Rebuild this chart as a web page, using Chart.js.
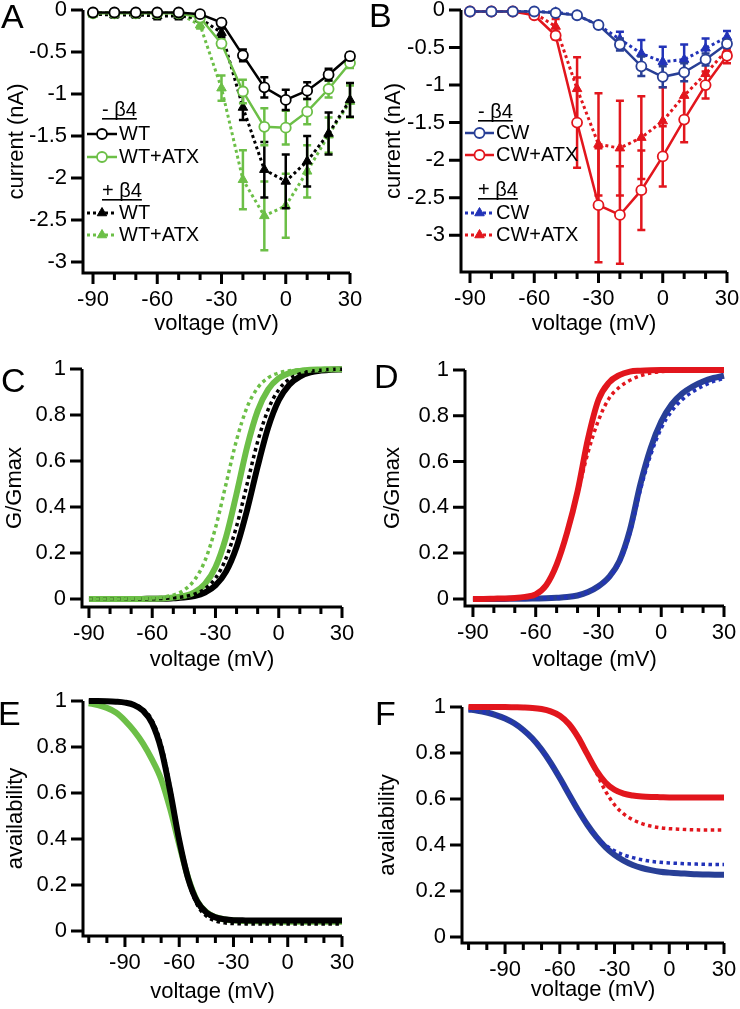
<!DOCTYPE html>
<html>
<head>
<meta charset="utf-8">
<title>Currents, activation and availability</title>
<script src="https://cdn.jsdelivr.net/npm/chart.js@4.4.1/dist/chart.umd.min.js"></script>
<style>
  html, body { margin: 0; padding: 0; background: #fff; }
  body { position: relative; width: 740px; height: 1009px; overflow: hidden;
         font-family: "Liberation Sans", Arial, Helvetica, sans-serif; }
  canvas { position: absolute; }
  .letter { position: absolute; font-size: 34px; line-height: 34px; color: #000; }
</style>
</head>
<body>
<canvas id="chart-A" width="370" height="338" style="left:0;top:0"></canvas>
<canvas id="chart-B" width="370" height="338" style="left:370px;top:0"></canvas>
<canvas id="chart-C" width="370" height="344" style="left:0;top:330px"></canvas>
<canvas id="chart-D" width="370" height="344" style="left:370px;top:330px"></canvas>
<canvas id="chart-E" width="370" height="346" style="left:0;top:660px"></canvas>
<canvas id="chart-F" width="370" height="344" style="left:370px;top:660px"></canvas>
<div class="letter" style="left:1px;top:-1px">A</div>
<div class="letter" style="left:369px;top:-2px">B</div>
<div class="letter" style="left:1px;top:363px">C</div>
<div class="letter" style="left:374px;top:359px">D</div>
<div class="letter" style="left:-2px;top:696px">E</div>
<div class="letter" style="left:375px;top:696px">F</div>
<script>
// voltages (mV)
const ivVolts = [-90, -80, -70, -60, -50, -40, -30, -20, -10, 0, 10, 20, 30];
const gvVolts = [-90, -85, -80, -75, -70, -65, -60, -55, -50, -45, -40, -35, -30,
                 -25, -20, -15, -10, -5, 0, 5, 10, 15, 20, 25, 30];
const availVolts = [-110, -105, -100, -95, -90, -85, -80, -75, -70, -65, -60, -55, -50, -45, -40,
                    -35, -30, -25, -20, -15, -10, -5, 0, 5, 10, 15, 20, 25, 30];

// A: peak current (nA), mean and error
const wtNoB4 = [-0.03, -0.03, -0.03, -0.03, -0.03, -0.05, -0.15, -0.54, -0.92, -1.07, -0.96, -0.77, -0.55];
const wtNoB4Err = [0.01, 0.01, 0.01, 0.01, 0.01, 0.02, 0.03, 0.07, 0.12, 0.12, 0.1, 0.07, 0.04];
const wtAtxNoB4 = [-0.04, -0.04, -0.04, -0.04, -0.04, -0.09, -0.40, -0.97, -1.39, -1.40, -1.21, -0.94, -0.63];
const wtAtxNoB4Err = [0.01, 0.01, 0.01, 0.01, 0.01, 0.02, 0.05, 0.14, 0.22, 0.2, 0.15, 0.1, 0.06];
const wtB4 = [-0.05, -0.06, -0.06, -0.07, -0.07, -0.1, -0.27, -1.16, -1.9, -2.04, -1.8, -1.47, -1.07];
const wtB4Err = [0.02, 0.03, 0.03, 0.04, 0.04, 0.03, 0.05, 0.15, 0.33, 0.32, 0.3, 0.25, 0.2];
const wtAtxB4 = [-0.03, -0.03, -0.03, -0.03, -0.04, -0.18, -0.93, -2.02, -2.45, -2.33, -1.92, -1.49, -1.09];
const wtAtxB4Err = [0.01, 0.01, 0.01, 0.01, 0.02, 0.04, 0.15, 0.35, 0.41, 0.38, 0.31, 0.21, 0.19];

// B
const cwNoB4 = [-0.02, -0.02, -0.02, -0.02, -0.04, -0.07, -0.20, -0.46, -0.75, -0.89, -0.83, -0.66, -0.45];
const cwNoB4Err = [0.01, 0.01, 0.01, 0.01, 0.01, 0.02, 0.03, 0.08, 0.13, 0.14, 0.12, 0.08, 0.05];
const cwAtxNoB4 = [-0.02, -0.02, -0.02, -0.07, -0.34, -1.50, -2.60, -2.73, -2.40, -1.95, -1.46, -1.00, -0.61];
const cwAtxNoB4Err = [0.01, 0.01, 0.01, 0.02, 0.05, 0.6, 0.76, 0.65, 0.53, 0.4, 0.3, 0.18, 0.1];
const cwB4 = [-0.02, -0.02, -0.02, -0.02, -0.03, -0.07, -0.2, -0.39, -0.58, -0.69, -0.66, -0.51, -0.36];
const cwB4Err = [0.01, 0.01, 0.01, 0.01, 0.01, 0.02, 0.03, 0.1, 0.18, 0.2, 0.2, 0.13, 0.08];
const cwAtxB4 = [-0.02, -0.02, -0.02, -0.04, -0.22, -1.05, -1.79, -1.84, -1.70, -1.48, -1.14, -0.85, -0.53];
const cwAtxB4Err = [0.01, 0.01, 0.01, 0.02, 0.1, 0.42, 0.68, 0.63, 0.55, 0.45, 0.28, 0.15, 0.1];

// C: G/Gmax fits
const gvWt = [0, 0, 0, 0, 0, 0, 0.001, 0.001, 0.003, 0.006, 0.013, 0.028, 0.059, 0.119, 0.226,
              0.387, 0.576, 0.746, 0.864, 0.932, 0.967, 0.985, 0.993, 0.997, 0.998];
const gvWtB4 = [0, 0, 0, 0, 0, 0, 0.001, 0.002, 0.005, 0.010, 0.021, 0.044, 0.090, 0.177, 0.316,
                0.5, 0.684, 0.824, 0.910, 0.956, 0.979, 0.990, 0.995, 0.998, 0.999];
const gvWtAtx = [0, 0, 0, 0, 0, 0, 0.001, 0.002, 0.006, 0.013, 0.029, 0.065, 0.138, 0.269, 0.458,
                 0.661, 0.818, 0.911, 0.960, 0.982, 0.992, 0.997, 0.998, 0.999, 0.999];
const gvWtAtxB4 = [0, 0, 0, 0, 0.001, 0.002, 0.004, 0.008, 0.017, 0.038, 0.082, 0.166, 0.309, 0.5, 0.691,
                   0.834, 0.918, 0.962, 0.983, 0.992, 0.997, 0.998, 0.999, 0.999, 1.0];

// D
const gvCw = [0, 0, 0, 0, 0.001, 0.001, 0.002, 0.003, 0.005, 0.008, 0.015, 0.03, 0.055, 0.095, 0.165,
              0.30, 0.5, 0.66, 0.775, 0.85, 0.897, 0.928, 0.95, 0.965, 0.975];
const gvCwB4 = [0, 0, 0, 0, 0.001, 0.001, 0.002, 0.003, 0.005, 0.008, 0.015, 0.03, 0.054, 0.092, 0.158,
                0.285, 0.475, 0.63, 0.745, 0.82, 0.87, 0.905, 0.93, 0.95, 0.963];
const gvCwAtx = [0, 0, 0.001, 0.002, 0.004, 0.009, 0.02, 0.06, 0.15, 0.29, 0.47, 0.70, 0.87, 0.945, 0.978,
                 0.993, 0.997, 0.999, 1, 1, 1, 1, 1, 1, 1];
const gvCwAtxB4 = [0, 0, 0.001, 0.002, 0.004, 0.009, 0.02, 0.06, 0.15, 0.29, 0.46, 0.64, 0.78, 0.875, 0.925,
                   0.955, 0.975, 0.987, 0.993, 0.996, 0.998, 0.999, 1, 1, 1];

// E: availability fits
const avWt = [1, 1, 0.999, 0.997, 0.993, 0.983, 0.958, 0.903, 0.791, 0.607, 0.395, 0.226, 0.127, 0.080, 0.059,
              0.051, 0.047, 0.046, 0.045, 0.045, 0.045, 0.045, 0.045, 0.045, 0.045, 0.045, 0.045, 0.045, 0.045];
const avWtB4 = [1, 1, 0.999, 0.998, 0.995, 0.986, 0.965, 0.916, 0.811, 0.627, 0.403, 0.219, 0.113, 0.065, 0.044,
                0.035, 0.032, 0.031, 0.03, 0.03, 0.03, 0.03, 0.03, 0.03, 0.03, 0.03, 0.03, 0.03, 0.03];
const avWtAtx = [0.99, 0.982, 0.97, 0.95, 0.915, 0.87, 0.815, 0.745, 0.66, 0.53, 0.375, 0.23, 0.13, 0.082, 0.06,
                 0.05, 0.046, 0.043, 0.042, 0.041, 0.04, 0.04, 0.04, 0.04, 0.04, 0.04, 0.04, 0.04, 0.04];

// F
const avCwAtx = [1, 1, 1, 1, 1, 0.999, 0.998, 0.996, 0.991, 0.981, 0.962, 0.926, 0.869, 0.796, 0.725,
                 0.672, 0.640, 0.623, 0.615, 0.611, 0.609, 0.608, 0.607, 0.607, 0.607, 0.607, 0.607, 0.607, 0.607];
const avCwAtxB4 = [1, 1, 1, 1, 1, 0.999, 0.998, 0.996, 0.991, 0.981, 0.962, 0.926, 0.869, 0.796, 0.715,
                   0.635, 0.575, 0.535, 0.51, 0.493, 0.482, 0.475, 0.471, 0.469, 0.467, 0.466, 0.465, 0.465, 0.465];
const avCw = [0.989, 0.984, 0.976, 0.965, 0.950, 0.929, 0.900, 0.863, 0.815, 0.757, 0.691, 0.621, 0.552, 0.489, 0.435,
              0.391, 0.357, 0.332, 0.313, 0.300, 0.291, 0.284, 0.280, 0.277, 0.275, 0.273, 0.272, 0.271, 0.271];
const avCwB4 = [0.989, 0.984, 0.976, 0.965, 0.950, 0.929, 0.900, 0.863, 0.815, 0.757, 0.691, 0.621, 0.552, 0.489, 0.437,
                0.40, 0.375, 0.357, 0.345, 0.336, 0.329, 0.325, 0.322, 0.32, 0.318, 0.317, 0.316, 0.315, 0.315];

const BLACK = '#000000', GREEN = '#6cbf47', RED = '#e2161d', NAVY = '#283f96', BLUE = '#2233b8';

Chart.defaults.font.family = '"Liberation Sans", Arial, Helvetica, sans-serif';
Chart.defaults.font.size = 22;
Chart.defaults.color = '#000';

const pts = (xs, ys) => xs.map((x, i) => ({ x: x, y: ys[i] }));

// axis lines and tick marks (minor ticks every 10 mV)
const axisFrame = {
    id: 'axisFrame',
    beforeDatasetsDraw(chart) {
        const { ctx, chartArea: a, scales: { x, y } } = chart;
        ctx.save();
        ctx.strokeStyle = '#000';
        ctx.lineWidth = 3;
        ctx.beginPath();
        ctx.moveTo(a.left, a.top);
        ctx.lineTo(a.left, a.bottom);
        ctx.lineTo(a.right, a.bottom);
        ctx.stroke();
        ctx.beginPath();
        for (let v = Math.ceil(x.min / 10) * 10; v <= x.max; v += 10) {
            const px = x.getPixelForValue(v);
            ctx.moveTo(px, a.bottom);
            ctx.lineTo(px, a.bottom + (v % 30 === 0 ? 11 : 7));
        }
        y.ticks.forEach(t => {
            const py = y.getPixelForValue(t.value);
            ctx.moveTo(a.left, py);
            ctx.lineTo(a.left - 12, py);
        });
        ctx.stroke();
        ctx.restore();
    }
};

const errorBars = {
    id: 'errorBars',
    beforeDatasetDraw(chart, args) {
        const ds = chart.data.datasets[args.index];
        if (!ds.errors) return;
        const { ctx, scales: { y } } = chart;
        ctx.save();
        ctx.strokeStyle = ds.borderColor;
        ctx.lineWidth = 2.5;
        ctx.setLineDash([]);
        ctx.beginPath();
        args.meta.data.forEach((el, i) => {
            const e = ds.errors[i];
            if (!e) return;
            const v = ds.data[i].y;
            const y1 = y.getPixelForValue(v + e), y2 = y.getPixelForValue(v - e);
            ctx.moveTo(el.x, y1); ctx.lineTo(el.x, y2);
            ctx.moveTo(el.x - 4, y1); ctx.lineTo(el.x + 4, y1);
            ctx.moveTo(el.x - 4, y2); ctx.lineTo(el.x + 4, y2);
        });
        ctx.stroke();
        ctx.restore();
    }
};

const ivLegend = {
    id: 'ivLegend',
    afterDatasetsDraw(chart, args, opts) {
        if (!opts.rows) return;
        const ctx = chart.ctx;
        ctx.save();
        ctx.font = '20px "Liberation Sans", Arial, sans-serif';
        ctx.textBaseline = 'middle';
        opts.rows.forEach(row => {
            ctx.fillStyle = '#000';
            if (row.header) {
                ctx.fillText(row.header, opts.headerX, row.y);
                const w = ctx.measureText(row.header).width;
                ctx.fillRect(opts.headerX, row.y + 8, w, 1.6);
                return;
            }
            const ds = chart.data.datasets[row.ds];
            ctx.strokeStyle = ds.borderColor;
            ctx.lineWidth = ds.borderWidth;
            ctx.setLineDash(ds.borderDash || []);
            ctx.beginPath();
            ctx.moveTo(opts.x0, row.y);
            ctx.lineTo(opts.x1, row.y);
            ctx.stroke();
            ctx.setLineDash([]);
            const cx = (opts.x0 + opts.x1) / 2, r = ds.pointRadius;
            ctx.beginPath();
            if (ds.pointStyle === 'triangle') {
                for (let k = 0; k < 3; k++) {
                    const ang = k * 2 * Math.PI / 3;
                    const px = cx + Math.sin(ang) * r, py = row.y - Math.cos(ang) * r;
                    if (k) ctx.lineTo(px, py); else ctx.moveTo(px, py);
                }
                ctx.closePath();
            } else {
                ctx.arc(cx, row.y, r, 0, 2 * Math.PI);
            }
            ctx.fillStyle = ds.pointBackgroundColor;
            ctx.fill();
            ctx.lineWidth = ds.pointBorderWidth;
            ctx.strokeStyle = ds.pointBorderColor;
            ctx.stroke();
            ctx.fillStyle = '#000';
            ctx.fillText(ds.label, opts.textX, row.y);
        });
        ctx.restore();
    }
};

function ivSeries(label, xs, ys, errs, color, dotted) {
    return {
        label: label,
        data: pts(xs, ys),
        errors: errs,
        borderColor: color,
        borderWidth: dotted ? 3 : 2.5,
        borderDash: dotted ? [3, 3] : [],
        pointStyle: dotted ? 'triangle' : 'circle',
        pointRadius: dotted ? 5.5 : 5,
        pointBorderWidth: dotted ? 1 : 1.8,
        pointBackgroundColor: dotted ? color : '#fff',
        pointBorderColor: color,
        tension: 0,
        clip: false
    };
}

function fitSeries(xs, ys, color, dotted) {
    return {
        data: pts(xs, ys),
        borderColor: color,
        borderWidth: dotted ? 3.5 : 6,
        borderDash: dotted ? [3.5, 3.5] : [],
        pointRadius: 0,
        cubicInterpolationMode: 'monotone',
        clip: false
    };
}

function makePanel(canvasId, spec) {
    return new Chart(document.getElementById(canvasId), {
        type: 'line',
        data: { datasets: spec.datasets },
        options: {
            responsive: false,
            animation: false,
            events: [],
            layout: { padding: { left: 0, top: spec.top, right: spec.right, bottom: 0 } },
            plugins: {
                legend: { display: false },
                tooltip: { enabled: false },
                ivLegend: spec.legend || {}
            },
            scales: {
                x: {
                    type: 'linear',
                    min: spec.xMin,
                    max: 30,
                    grid: { display: false, drawTicks: false },
                    border: { display: false },
                    ticks: {
                        stepSize: 30, includeBounds: false, padding: 14,
                        maxRotation: 0, autoSkip: false,
                        callback: v => String(v)
                    },
                    title: { display: true, text: 'voltage (mV)', padding: { top: 0, bottom: 1 } },
                    afterFit: s => { s.height = spec.xHeight; s.paddingLeft = 0; s.paddingRight = 0; }
                },
                y: {
                    type: 'linear',
                    min: spec.yMin,
                    max: spec.yMax,
                    grid: { display: false, drawTicks: false },
                    border: { display: false },
                    ticks: {
                        stepSize: spec.yStep, includeBounds: false, padding: 16,
                        callback: v => String(Math.round(v * 10) / 10)
                    },
                    title: { display: true, text: spec.yTitle, padding: { top: spec.yTitlePad, bottom: 0 } },
                    afterFit: s => { s.width = spec.yWidth; s.paddingTop = 0; s.paddingBottom = 0; }
                }
            }
        },
        plugins: [axisFrame, errorBars, ivLegend]
    });
}

makePanel('chart-A', {
    top: 10, right: 20, xHeight: 65, yWidth: 83, yTitlePad: 4,
    xMin: -94.67, yMin: -3.13, yMax: 0, yStep: 0.5, yTitle: 'current (nA)',
    datasets: [
        ivSeries('WT', ivVolts, wtNoB4, wtNoB4Err, BLACK, false),
        ivSeries('WT+ATX', ivVolts, wtAtxNoB4, wtAtxNoB4Err, GREEN, false),
        ivSeries('WT', ivVolts, wtB4, wtB4Err, BLACK, true),
        ivSeries('WT+ATX', ivVolts, wtAtxB4, wtAtxB4Err, GREEN, true)
    ],
    legend: {
        headerX: 102, x0: 87, x1: 117, textX: 119,
        rows: [{ header: '- β4', y: 110 }, { ds: 0, y: 134 }, { ds: 1, y: 157 },
               { header: '+ β4', y: 191 }, { ds: 2, y: 213 }, { ds: 3, y: 235 }]
    }
});

makePanel('chart-B', {
    top: 10, right: 13, xHeight: 66, yWidth: 91, yTitlePad: 11,
    xMin: -94.2, yMin: -3.49, yMax: 0, yStep: 0.5, yTitle: 'current (nA)',
    datasets: [
        ivSeries('CW', ivVolts, cwNoB4, cwNoB4Err, NAVY, false),
        ivSeries('CW+ATX', ivVolts, cwAtxNoB4, cwAtxNoB4Err, RED, false),
        ivSeries('CW', ivVolts, cwB4, cwB4Err, BLUE, true),
        ivSeries('CW+ATX', ivVolts, cwAtxB4, cwAtxB4Err, RED, true)
    ],
    legend: {
        headerX: 108, x0: 95, x1: 124, textX: 126,
        rows: [{ header: '- β4', y: 112 }, { ds: 0, y: 133 }, { ds: 1, y: 155 },
               { header: '+ β4', y: 190 }, { ds: 2, y: 213 }, { ds: 3, y: 235 }]
    }
});

makePanel('chart-C', {
    top: 39, right: 28, xHeight: 67, yWidth: 82, yTitlePad: 2,
    xMin: -93.3, yMin: -0.035, yMax: 1, yStep: 0.2, yTitle: 'G/Gmax',
    datasets: [
        fitSeries(gvVolts, gvWtAtxB4, GREEN, true),
        fitSeries(gvVolts, gvWtB4, BLACK, true),
        fitSeries(gvVolts, gvWtAtx, GREEN, false),
        fitSeries(gvVolts, gvWt, BLACK, false)
    ]
});

makePanel('chart-D', {
    top: 40, right: 16, xHeight: 68, yWidth: 95, yTitlePad: 10,
    xMin: -93.8, yMin: -0.031, yMax: 1, yStep: 0.2, yTitle: 'G/Gmax',
    datasets: [
        fitSeries(gvVolts, gvCwAtxB4, RED, true),
        fitSeries(gvVolts, gvCwAtx, RED, false),
        fitSeries(gvVolts, gvCwB4, BLUE, true),
        fitSeries(gvVolts, gvCw, NAVY, false)
    ]
});

makePanel('chart-E', {
    top: 41, right: 28, xHeight: 70, yWidth: 83, yTitlePad: 3,
    xMin: -113.2, yMin: -0.022, yMax: 1, yStep: 0.2, yTitle: 'availability',
    datasets: [
        fitSeries(availVolts, avWtB4, BLACK, true),
        fitSeries(availVolts, avWt, BLACK, false),
        fitSeries(availVolts, avWtAtx, GREEN, false)
    ]
});

makePanel('chart-F', {
    top: 47, right: 16, xHeight: 61, yWidth: 92, yTitlePad: 5,
    xMin: -113.6, yMin: -0.026, yMax: 1, yStep: 0.2, yTitle: 'availability',
    datasets: [
        fitSeries(availVolts, avCwAtxB4, RED, true),
        fitSeries(availVolts, avCwAtx, RED, false),
        fitSeries(availVolts, avCwB4, BLUE, true),
        fitSeries(availVolts, avCw, NAVY, false)
    ]
});
</script>
</body>
</html>
